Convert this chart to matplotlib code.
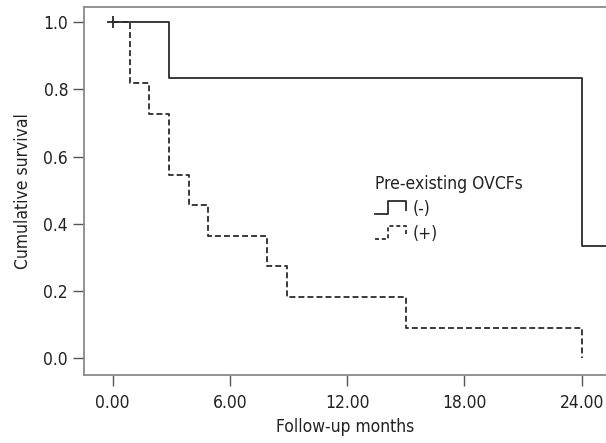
import numpy as np
import matplotlib
matplotlib.use("Agg")
import matplotlib.pyplot as plt
from matplotlib.legend_handler import HandlerBase
from matplotlib.lines import Line2D

plt.rcParams['font.family'] = ['DejaVu Sans']
plt.rcParams['font.stretch'] = 'condensed'

# Kaplan-Meier step data (months, cumulative survival)
neg_times = [0, 2.9, 24.0, 25.3]
neg_surv = [1.0, 0.833, 0.333, 0.333]
neg_censor_t = [0]
neg_censor_s = [1.0]

pos_times = [0, 0.9, 1.85, 2.9, 3.9, 4.9, 7.9, 8.9, 15.0, 24.0]
pos_surv = [1.0, 0.818, 0.727, 0.545, 0.455, 0.364, 0.273, 0.182, 0.091, 0.0]

xticks = [0, 6, 12, 18, 24]
yticks = [0.0, 0.2, 0.4, 0.6, 0.8, 1.0]
labels = ["(-)", "(+)"]


class StepHandler(HandlerBase):
    # small step-shaped legend key like in SPSS survival plots
    def create_artists(self, legend, orig_handle, xdescent, ydescent,
                       width, height, fontsize, trans):
        xs = np.array([0, 0.4, 0.4, 1, 1]) * width - xdescent
        ys = np.array([0, 0, 1, 1, 0.3]) * height - ydescent
        ln = Line2D(xs, ys, color=orig_handle.get_color(),
                    linewidth=orig_handle.get_linewidth())
        if orig_handle.get_linestyle() == '--':
            ln.set_dashes((2.2, 1.6))
        ln.set_transform(trans)
        return [ln]


fig = plt.figure(figsize=(6.06, 4.43), dpi=100)
ax = fig.add_axes([0.1386, 0.1535, 0.8614, 0.8305])

l1, = ax.step(neg_times, neg_surv, where='post', color='#2b2b2b', lw=1.3)
l2, = ax.step(pos_times, pos_surv, where='post', color='#2b2b2b', lw=1.3,
              linestyle='--', dashes=(3.3, 1.7))
ax.plot(neg_censor_t, neg_censor_s, marker='+', ms=9, mew=1.3,
        color='#2b2b2b', linestyle='none')

ax.set_xlim(-1.47, 25.25)
ax.set_ylim(-0.05, 1.045)
ax.set_xticks(xticks)
ax.set_xticklabels([f"{t:.2f}" for t in xticks])
ax.set_yticks(yticks)
ax.set_yticklabels([f"{t:.1f}" for t in yticks])

for s in ['left', 'bottom', 'top']:
    ax.spines[s].set_color('#8a8a8a')
    ax.spines[s].set_linewidth(1.3)
ax.spines['right'].set_visible(False)
ax.tick_params(axis='both', direction='out', length=8, width=1,
               color='#555555', labelsize=12.5, labelcolor='#222222')
ax.tick_params(axis='x', pad=6)

ax.set_xlabel("Follow-up months", fontsize=12.5, color='#222222', labelpad=4)
ax.set_ylabel("Cumulative survival", fontsize=12.5, color='#222222', labelpad=8)

leg = ax.legend([l1, l2], labels, handler_map={Line2D: StepHandler()},
                title="Pre-existing OVCFs", title_fontsize=12.5, fontsize=12.5,
                loc='upper left', bbox_to_anchor=(0.535, 0.577), frameon=False,
                handlelength=1.75, handleheight=0.75, handletextpad=0.4,
                labelspacing=0.4, alignment='left', borderpad=0.2)
for t in leg.get_texts():
    t.set_color('#222222')
leg.get_title().set_color('#222222')

fig.savefig("out.png", dpi=100)
